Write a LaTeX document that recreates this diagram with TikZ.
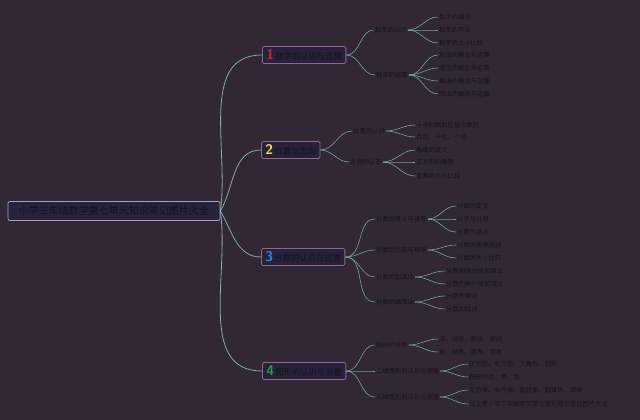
\documentclass[tikz,border=0pt]{standalone}
\usepackage{fontspec}
\newfontfamily\cjk{Noto Sans CJK SC}
\usepackage{xcolor}

\definecolor{bgcol}{RGB}{50,40,52}
\definecolor{inkcol}{RGB}{22,18,26}
\definecolor{boxfill}{RGB}{38,34,58}
\definecolor{boxline}{RGB}{150,98,150}
\definecolor{rootline}{RGB}{170,160,192}
\definecolor{linecol}{RGB}{112,165,152}
\definecolor{numred}{RGB}{214,30,60}
\definecolor{numyellow}{RGB}{244,214,70}
\definecolor{numblue}{RGB}{40,140,225}
\definecolor{numgreen}{RGB}{30,165,50}

\newcommand{\topicnum}[2]{{\color{#1}\sffamily\bfseries\fontsize{14}{14}\selectfont #2}\,}

\begin{document}
\begin{tikzpicture}[x=1pt, y=-1pt,
  leaf/.style={font=\cjk\fontsize{6.3}{7}\selectfont, text=inkcol, inner sep=1pt, anchor=west},
  topic/.style={draw=boxline, fill=boxfill, rounded corners=1.5pt, line width=0.8pt,
    minimum height=17pt, inner xsep=4pt, inner ysep=0.5pt, anchor=west,
    font=\cjk\fontsize{8.3}{9}\selectfont, text=inkcol},
  link/.style={draw=linecol, line width=0.6pt},
  trunk/.style={draw=linecol!90!white, line width=0.8pt}
]
  % background and page size
  \fill[bgcol] (0,0) rectangle (640,420);
  \useasboundingbox (0,0) rectangle (640,420);

  % central topic
  \node[draw=rootline, fill=boxfill, rounded corners=2pt, line width=0.8pt,
    minimum width=212pt, minimum height=19pt, font=\cjk\fontsize{10}{11}\selectfont,
    text=inkcol] (root) at (114,211) {小学三年级数学第七单元知识笔记图片大全};

  % main branches
  \node[topic] (b1) at (262,55) {\topicnum{numred}{1}数字的认识与运算};
  \node[topic] (b2) at (261,150) {\topicnum{numyellow}{2}位置与方向};
  \node[topic] (b3) at (261,257) {\topicnum{numblue}{3}分数的认识与运算};
  \node[topic] (b4) at (262,371) {\topicnum{numgreen}{4}图形的认识与测量};
  \draw[trunk] (root.east) to[out=82,in=180] (b1.west);
  \draw[trunk] (root.east) to[out=60,in=180] (b2.west);
  \draw[trunk] (root.east) to[out=-60,in=180] (b3.west);
  \draw[trunk] (root.east) to[out=-82,in=180] (b4.west);

  % branch 1
  \node[leaf] (b1a) at (374,30) {数字的认识};
  \node[leaf] (b1b) at (375,75) {数字的运算};
  \foreach \c in {b1a,b1b} \draw[link] (b1.east) to[out=0,in=180] (\c.west);
  \node[leaf] (b1a1) at (438,17) {数字的读法};
  \node[leaf] (b1a2) at (438,30) {数字的写法};
  \node[leaf] (b1a3) at (438,43) {数字的大小比较};
  \foreach \c in {b1a1,b1a2,b1a3} \draw[link] (b1a.east) to[out=0,in=180] (\c.west);
  \node[leaf] (b1b1) at (438,55) {加法的概念与运算};
  \node[leaf] (b1b2) at (438,68) {减法的概念与运算};
  \node[leaf] (b1b3) at (438,81) {乘法的概念与运算};
  \node[leaf] (b1b4) at (438,94) {除法的概念与运算};
  \foreach \c in {b1b1,b1b2,b1b3,b1b4} \draw[link] (b1b.east) to[out=0,in=180] (\c.west);

  % branch 2
  \node[leaf] (b2a) at (352,131) {位置的认识};
  \node[leaf] (b2b) at (349,162) {方向的认识};
  \foreach \c in {b2a,b2b} \draw[link] (b2.east) to[out=0,in=180] (\c.west);
  \node[leaf] (b2a1) at (415,125) {十进制数的位值与数位};
  \node[leaf] (b2a2) at (415,137) {百位、十位、个位};
  \foreach \c in {b2a1,b2a2} \draw[link] (b2a.east) to[out=0,in=180] (\c.west);
  \node[leaf] (b2b1) at (415,150) {角度的定义};
  \node[leaf] (b2b2) at (415,162) {正方形的角度};
  \node[leaf] (b2b3) at (415,176) {直角的大小比较};
  \foreach \c in {b2b1,b2b2,b2b3} \draw[link] (b2b.east) to[out=0,in=180] (\c.west);

  % branch 3
  \node[leaf] (b3a) at (375,219) {分数的意义与读写};
  \node[leaf] (b3b) at (375,250) {分数的比较与排序};
  \node[leaf] (b3c) at (375,277) {分数的加减法};
  \node[leaf] (b3d) at (375,302) {分数的乘除法};
  \foreach \c in {b3a,b3b,b3c,b3d} \draw[link] (b3.east) to[out=0,in=180] (\c.west);
  \node[leaf] (b3a1) at (456,206) {分数的定义};
  \node[leaf] (b3a2) at (456,219) {分子与分母};
  \node[leaf] (b3a3) at (456,232) {分数的读法};
  \foreach \c in {b3a1,b3a2,b3a3} \draw[link] (b3a.east) to[out=0,in=180] (\c.west);
  \node[leaf] (b3b1) at (456,245) {分数的排序规则};
  \node[leaf] (b3b2) at (456,258) {分数的大小比较};
  \foreach \c in {b3b1,b3b2} \draw[link] (b3b.east) to[out=0,in=180] (\c.west);
  \node[leaf] (b3c1) at (445,271) {分数的同分母加减法};
  \node[leaf] (b3c2) at (445,284) {分数的异分母加减法};
  \foreach \c in {b3c1,b3c2} \draw[link] (b3c.east) to[out=0,in=180] (\c.west);
  \node[leaf] (b3d1) at (445,296) {分数的乘法};
  \node[leaf] (b3d2) at (445,309) {分数的除法};
  \foreach \c in {b3d1,b3d2} \draw[link] (b3d.east) to[out=0,in=180] (\c.west);

  % branch 4
  \node[leaf] (b4a) at (375,345) {图形的名称};
  \node[leaf] (b4b) at (375,371) {二维图形的认识与测量};
  \node[leaf] (b4c) at (375,397) {三维图形的认识与测量};
  \foreach \c in {b4a,b4b,b4c} \draw[link] (b4.east) to[out=0,in=180] (\c.west);
  \node[leaf] (b4a1) at (438,339) {点、线段、直线、射线};
  \node[leaf] (b4a2) at (438,352) {角、锐角、直角、钝角};
  \foreach \c in {b4a1,b4a2} \draw[link] (b4a.east) to[out=0,in=180] (\c.west);
  \node[leaf] (b4b1) at (468,364) {正方形、长方形、三角形、圆形};
  \node[leaf] (b4b2) at (468,377) {图形的边、角、面};
  \foreach \c in {b4b1,b4b2} \draw[link] (b4b.east) to[out=0,in=180] (\c.west);
  \node[leaf] (b4c1) at (468,390) {立方体、长方体、圆柱体、圆锥体、球体};
  \node[leaf] (b4c2) at (468,404) {以上是小学三年级数学第七单元知识笔记图片大全};
  \foreach \c in {b4c1,b4c2} \draw[link] (b4c.east) to[out=0,in=180] (\c.west);
\end{tikzpicture}
\end{document}
